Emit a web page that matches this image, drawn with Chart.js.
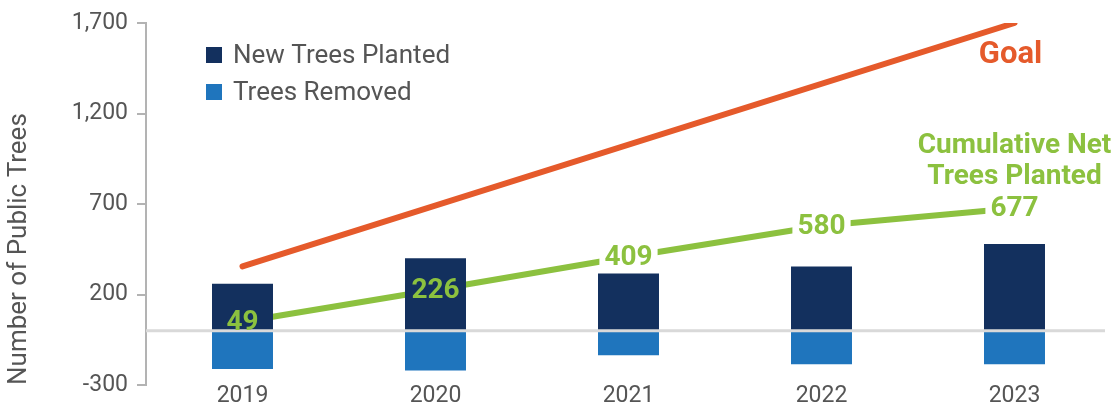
<!DOCTYPE html>
<html>
<head>
<meta charset="utf-8">
<script src="https://cdn.jsdelivr.net/npm/chart.js@4"></script>
<style>
  html, body { margin: 0; padding: 0; background: #fff; }
  #wrap { width: 1120px; height: 404px; }
</style>
</head>
<body>
<div id="wrap"><canvas id="treesChart" width="1120" height="404"></canvas></div>
<script>
// values
const years = ['2019', '2020', '2021', '2022', '2023'];
const planted = [260, 400, 316, 355, 479];
const removed = [-212, -220, -136, -186, -186];
const cumulativeNet = [49, 226, 409, 580, 677];
const goal = [355, null, null, null, 1700];
const yTicks = [-300, 200, 700, 1200, 1700];

const NAVY = '#13305e';
const BLUE = '#1f75bd';
const ORANGE = '#e55a2b';
const GREEN = '#8cc13f';
const TEXT = '#555555';
const FONT = 'Roboto, "Noto Sans", sans-serif';

const labelFont = 'bold 28px ' + FONT;

const overlay = {
    id: 'overlay',
    // white boxes behind the net labels, drawn right after the green line
    // so the bars painted later cover them
    afterDatasetDraw(chart, args) {
        if (chart.data.datasets[args.index].label !== 'Cumulative Net Trees Planted') return;
        const ctx = chart.ctx;
        ctx.save();
        ctx.font = labelFont;
        ctx.fillStyle = '#ffffff';
        args.meta.data.forEach(function (pt, i) {
            const w = ctx.measureText(String(cumulativeNet[i])).width + 10;
            ctx.fillRect(pt.x - w / 2, pt.y - 16, w, 32);
        });
        ctx.restore();
    },
    afterDatasetsDraw(chart) {
        const ctx = chart.ctx;
        const area = chart.chartArea;
        const y = chart.scales.y;
        ctx.save();

        // zero line
        const y0 = y.getPixelForValue(0);
        ctx.strokeStyle = '#d9d9d9';
        ctx.lineWidth = 3;
        ctx.beginPath();
        ctx.moveTo(area.left, y0);
        ctx.lineTo(area.right - 6, y0);
        ctx.stroke();

        // net labels
        const netMeta = chart.getDatasetMeta(3);
        ctx.font = labelFont;
        ctx.fillStyle = GREEN;
        ctx.textAlign = 'center';
        ctx.textBaseline = 'middle';
        netMeta.data.forEach(function (pt, i) {
            ctx.fillText(String(cumulativeNet[i]), pt.x, pt.y + 1);
        });

        // series names
        const lastNet = netMeta.data[netMeta.data.length - 1];
        ctx.font = 'bold 28px ' + FONT;
        ctx.fillText('Cumulative Net', lastNet.x, lastNet.y - 62);
        ctx.fillText('Trees Planted', lastNet.x, lastNet.y - 31);

        const goalMeta = chart.getDatasetMeta(2);
        const lastGoal = goalMeta.data[goalMeta.data.length - 1];
        ctx.fillStyle = ORANGE;
        ctx.font = 'bold 31px ' + FONT;
        ctx.fillText('Goal', lastGoal.x - 4, lastGoal.y + 32);

        // legend
        ctx.textAlign = 'left';
        ctx.font = '26px ' + FONT;
        [[NAVY, 'New Trees Planted', 55], [BLUE, 'Trees Removed', 92]].forEach(function (item) {
            ctx.fillStyle = item[0];
            ctx.fillRect(206, item[2] - 8, 16, 16);
            ctx.fillStyle = TEXT;
            ctx.fillText(item[1], 233, item[2] + 1);
        });

        ctx.restore();
    }
};

const ctx = document.getElementById('treesChart').getContext('2d');
new Chart(ctx, {
    type: 'bar',
    data: {
        labels: years,
        datasets: [
            { label: 'New Trees Planted', data: planted, backgroundColor: NAVY, order: 1 },
            { label: 'Trees Removed', data: removed, backgroundColor: BLUE, order: 1 },
            {
                type: 'line', label: 'Goal', data: goal, borderColor: ORANGE, borderWidth: 6,
                borderCapStyle: 'round', pointRadius: 0, spanGaps: true, order: 2
            },
            {
                type: 'line', label: 'Cumulative Net Trees Planted', data: cumulativeNet, borderColor: GREEN,
                borderWidth: 6, borderCapStyle: 'round', pointRadius: 0, order: 2
            }
        ]
    },
    options: {
        responsive: false,
        animation: false,
        devicePixelRatio: 1,
        categoryPercentage: 1,
        barPercentage: 0.316,
        layout: { padding: { top: 23, right: 9, left: 0, bottom: 0 } },
        plugins: {
            legend: { display: false },
            tooltip: { enabled: false }
        },
        scales: {
            x: {
                stacked: true,
                grid: { display: false, drawTicks: false },
                border: { display: false },
                ticks: { color: TEXT, font: { family: FONT, size: 23 }, padding: -3 },
                afterFit: function (scale) { scale.height = 19; }
            },
            y: {
                min: -300,
                max: 1700,
                afterBuildTicks: function (scale) {
                    scale.ticks = yTicks.map(function (v) { return { value: v }; });
                },
                grid: { drawOnChartArea: false, drawTicks: true, tickLength: 9, color: '#b3b3b3', lineWidth: 2 },
                border: { display: true, color: '#b3b3b3', width: 2 },
                ticks: {
                    color: TEXT,
                    padding: 9,
                    font: { family: FONT, size: 23, lineHeight: 0.5 },
                    callback: function (v) { return v.toLocaleString('en-US'); }
                },
                title: {
                    display: true,
                    text: 'Number of Public Trees',
                    align: 'start',
                    color: TEXT,
                    font: { family: FONT, size: 26 },
                    padding: { top: 4, bottom: 0 }
                },
                afterFit: function (scale) { scale.width = 146; }
            }
        }
    },
    plugins: [overlay]
});
</script>
</body>
</html>
